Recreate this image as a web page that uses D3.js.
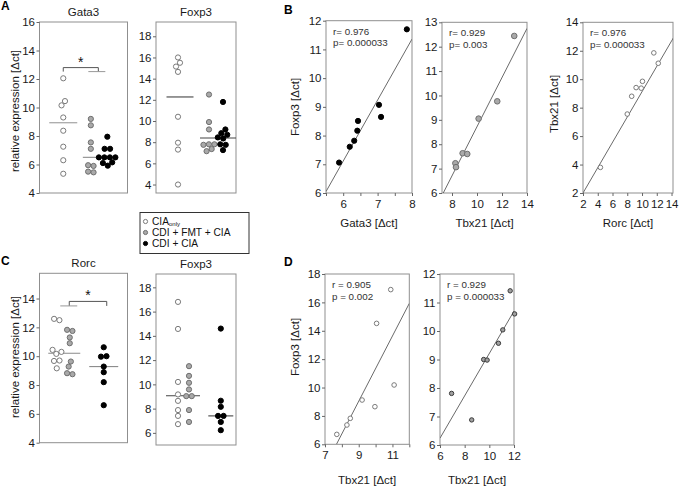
<!DOCTYPE html>
<html><head><meta charset="utf-8">
<script src="https://cdn.jsdelivr.net/npm/d3@7"></script>
<style>
body{margin:0;background:#fff}
svg{display:block}
</style></head><body>
<svg id="c" width="684" height="492"></svg>
<script>
// ---------------- DATA ----------------
// Panel A (strip plots): groups CIA only / CDI + FMT + CIA / CDI + CIA
const groupNames = ["CIA only", "CDI + FMT + CIA", "CDI + CIA"];
const gata3_CIAonly = [12.05, 10.45, 10.15, 9.3, 8.37, 7.25, 6.3, 5.35];
const gata3_FMT     = [9.2, 8.75, 7.55, 7.1, 5.95, 5.9, 5.5, 5.45];
const gata3_CDI     = [7.95, 7.1, 7.1, 6.5, 6.5, 6.5, 6.5, 6.15, 6.1, 5.92];
const gata3_medians = [8.93, 6.5];
const gata3_sigLevel = 12.8;

const foxpA_CIAonly = [16.0, 15.5, 15.14, 14.64, 10.4, 7.95, 7.3, 4.0];
const foxpA_FMT     = [12.5, 9.9, 9.2, 7.8, 7.75, 7.8, 7.35, 7.15];
const foxpA_CDI     = [11.8, 9.2, 8.85, 8.7, 8.45, 8.35, 7.8, 7.75, 7.25];
const foxpA_medians = [12.27, 8.4];

// Panel C
const rorc_CIAonly = [12.59, 12.5, 10.44, 10.3, 10.16, 9.7, 9.67, 9.16];
const rorc_FMT     = [11.83, 11.75, 11.3, 10.9, 9.63, 9.28, 8.82, 8.75];
const rorc_CDI     = [10.62, 10.0, 9.97, 9.28, 8.89, 8.2, 6.6];
const rorc_medians = [10.2, 9.28];
const rorc_sigLevel = 13.8;

const foxpC_CIAonly = [16.8, 14.57, 10.2, 9.17, 8.64, 7.88, 7.4, 6.72];
const foxpC_FMT     = [11.5, 10.7, 10.13, 9.58, 9.03, 9.03, 7.88, 6.9];
const foxpC_CDI     = [14.6, 8.65, 8.15, 7.4, 7.4, 6.9, 6.22];
const foxpC_medians = [9.06, 7.4];

// Panel B (correlations)
const b1_gata3 = [5.88, 6.19, 6.32, 6.41, 6.43, 7.04, 7.1, 7.85];
const b1_foxp3 = [7.06, 7.61, 7.82, 8.17, 8.51, 9.07, 8.65, 11.7];
const b1_fit   = {x: [5.5, 8.0], y: [6.05, 11.36]};
const b1_stats = ["r= 0.976", "p= 0.000033"];

const b2_tbx21 = [12.98, 11.62, 10.13, 8.85, 9.22, 8.27, 8.32];
const b2_foxp3 = [12.44, 9.76, 9.05, 7.63, 7.6, 7.22, 7.06];
const b2_fit   = {x: [7.3, 14.0], y: [6.0, 12.75]};
const b2_stats = ["r= 0.929", "p= 0.003"];

const b3_rorc  = [4.36, 8.0, 8.6, 9.2, 9.89, 10.06, 11.6, 12.2];
const b3_tbx21 = [3.8, 7.55, 8.8, 9.41, 9.37, 9.85, 11.85, 11.12];
const b3_fit   = {x: [2.0, 14.3], y: [2.0, 12.95]};
const b3_stats = ["r= 0.976", "p= 0.000033"];

// Panel D
const d1_tbx21 = [7.7, 8.3, 8.5, 9.2, 9.96, 10.06, 10.9, 11.1];
const d1_foxp3 = [6.7, 7.36, 7.83, 9.12, 8.65, 14.52, 16.9, 10.18];
const d1_fit   = {x: [7.68, 12.0], y: [6.0, 15.93]};
const d1_stats = ["r = 0.905", "p = 0.002"];

const d2_tbx21 = [6.94, 8.57, 9.54, 9.82, 10.74, 11.09, 11.69, 12.05];
const d2_foxp3 = [7.81, 6.88, 9.0, 8.98, 9.57, 10.04, 11.41, 10.6];
const d2_fit   = {x: [6.0, 12.0], y: [6.24, 10.7]};
const d2_stats = ["r = 0.929", "p = 0.000033"];

// ---------------- DRAWING ----------------
const FONT = '"Liberation Sans", Arial, Helvetica, sans-serif';
const svg = d3.select("#c").attr("font-family", FONT);
const STYLE = {
  open:  {fill: "#ffffff", stroke: "#7a7a7a"},
  gray:  {fill: "#a9a9a9", stroke: "#6f6f6f"},
  black: {fill: "#000000", stroke: "#000000"},
  grayDark: {fill: "#a0a0a0", stroke: "#3a3a3a"}
};
let clipId = 0;

function frame(g, b) {
  g.append("rect").attr("x", b.x0).attr("y", b.y0)
    .attr("width", b.x1 - b.x0).attr("height", b.y1 - b.y0)
    .attr("fill", "none").attr("stroke", "#8f8f8f").attr("stroke-width", 1);
}
function styleAxis(a) {
  a.select(".domain").remove();
  a.selectAll("line").attr("stroke", "#666");
  a.selectAll("text").attr("font-size", 11.5).attr("fill", "#1a1a1a").attr("font-family", FONT);
}
function yAxis(g, y, ticks, x0, labelSet) {
  const ax = d3.axisLeft(y).tickValues(ticks).tickSize(3).tickPadding(1.5)
    .tickFormat(d => (!labelSet || labelSet.includes(d)) ? d3.format("d")(d) : "");
  const a = g.append("g").attr("transform", `translate(${x0},0)`).call(ax);
  styleAxis(a);
}
function xAxis(g, x, ticks, y0, labelSet) {
  const ax = d3.axisBottom(x).tickValues(ticks).tickSize(3).tickPadding(4)
    .tickFormat(d => (!labelSet || labelSet.includes(d)) ? d3.format("d")(d) : "");
  const a = g.append("g").attr("transform", `translate(0,${y0})`).call(ax);
  styleAxis(a);
}
function text(g, x, y, s, size, opts = {}) {
  const t = g.append("text").attr("x", x).attr("y", y).attr("font-size", size)
    .attr("fill", opts.fill || "#1a1a1a").attr("text-anchor", opts.anchor || "middle");
  if (opts.weight) t.attr("font-weight", opts.weight);
  if (opts.rotate) t.attr("transform", `rotate(-90,${x},${y})`);
  t.text(s);
  return t;
}
function swarm(vals, cx, y, r) {
  const nodes = vals.map((v, i) => ({v, x: cx + (i % 2 ? 1 : -1) * 0.05 * (i + 1), y: y(v), fy: y(v)}));
  const sim = d3.forceSimulation(nodes)
    .force("x", d3.forceX(cx).strength(0.25))
    .force("c", d3.forceCollide(r + 0.15).iterations(4))
    .stop();
  for (let i = 0; i < 300; i++) sim.tick();
  return nodes;
}
function dots(g, nodes, r, st) {
  g.selectAll(null).data(nodes).join("circle")
    .attr("cx", d => d.x).attr("cy", d => d.y).attr("r", r)
    .attr("fill", st.fill).attr("stroke", st.stroke).attr("stroke-width", 1);
}

// strip panel
function stripPanel(o) {
  const g = svg.append("g");
  const b = o.box;
  const y = d3.scaleLinear().domain(o.yDomain).range([b.y1, b.y0]);
  const w = b.x1 - b.x0;
  const pos = d3.scalePoint().domain(["p1", "p2"]).range([b.x0 + w * o.posFrac[0], b.x0 + w * o.posFrac[1]]);
  frame(g, b);
  yAxis(g, y, o.yTicks, b.x0);
  text(g, (b.x0 + b.x1) / 2, b.y0 - 6, o.title, 11.5);
  o.medians.forEach((m, i) => {
    const cx = pos(["p1", "p2"][i]) + o.medShift[i];
    g.append("line").attr("x1", cx - o.medHalf[i]).attr("x2", cx + o.medHalf[i])
      .attr("y1", y(m)).attr("y2", y(m)).attr("stroke", o.medColor).attr("stroke-width", 1.1);
  });
  o.groups.forEach(gr => {
    const cx = pos(gr.pos) + gr.sub;
    dots(g, swarm(gr.vals, cx, y, o.r), o.r, STYLE[gr.style]);
  });
  return {g, y, pos};
}

// scatter panel
function scatterPanel(o) {
  const g = svg.append("g");
  const b = o.box;
  const x = d3.scaleLinear().domain(o.xDomain).range([b.x0, b.x1]);
  const y = d3.scaleLinear().domain(o.yDomain).range([b.y1, b.y0]);
  frame(g, b);
  yAxis(g, y, o.yTicks, b.x0, o.yLabels);
  xAxis(g, x, o.xTicks, b.y1, o.xLabels);
  const id = "clip" + (clipId++);
  g.append("clipPath").attr("id", id).append("rect")
    .attr("x", b.x0).attr("y", b.y0).attr("width", b.x1 - b.x0).attr("height", b.y1 - b.y0);
  g.append("line").attr("clip-path", `url(#${id})`)
    .attr("x1", x(o.fit.x[0])).attr("y1", y(o.fit.y[0]))
    .attr("x2", x(o.fit.x[1])).attr("y2", y(o.fit.y[1]))
    .attr("stroke", "#6a6a6a").attr("stroke-width", 1);
  const st = STYLE[o.style];
  g.selectAll(null).data(o.xs.map((v, i) => [v, o.ys[i]])).join("circle")
    .attr("cx", d => x(d[0])).attr("cy", d => y(d[1])).attr("r", o.r)
    .attr("fill", st.fill).attr("stroke", st.stroke).attr("stroke-width", 1);
  text(g, b.x0 + 7, b.y0 + 14, o.stats[0], 9.8, {anchor: "start", fill: "#333"});
  text(g, b.x0 + 7, b.y0 + 25.5, o.stats[1], 9.8, {anchor: "start", fill: "#333"});
  if (o.xTitle) text(g, (b.x0 + b.x1) / 2, o.xTitleY, o.xTitle, 11.5);
  if (o.yTitle) text(g, o.yTitleX, o.yTitleY, o.yTitle, 11.5, {rotate: true});
  return {g, x, y};
}

// ---- Panel A ----
text(svg, 1, 10, "A", 12, {anchor: "start", weight: "bold", fill: "#000"});
text(svg, 19, 111, "relative expression [\u0394ct]", 11.5, {rotate: true});
const aG = stripPanel({
  box: {x0: 39.5, x1: 127.5, y0: 22, y1: 193}, yDomain: [4, 16], yTicks: d3.range(4, 17, 2),
  title: "Gata3", posFrac: [0.27, 0.68], r: 2.6,
  medians: gata3_medians, medHalf: [14, 17.5], medShift: [0, 1], medColor: "#9a9a9a",
  groups: [
    {vals: gata3_CIAonly, pos: "p1", sub: 0, style: "open"},
    {vals: gata3_FMT, pos: "p2", sub: -8.5, style: "gray"},
    {vals: gata3_CDI, pos: "p2", sub: 8, style: "black"}
  ]
});
{
  const g = aG.g, y = aG.y;
  const xl = aG.pos("p1"), xr = aG.pos("p2") - 1, yb = y(gata3_sigLevel);
  g.append("path").attr("d", `M${xl},${yb + 4}V${yb}H${xr}V${yb + 4}`).attr("fill", "none").attr("stroke", "#555");
  g.append("line").attr("x1", xr - 10).attr("x2", xr + 7).attr("y1", yb + 4).attr("y2", yb + 4).attr("stroke", "#999");
  text(g, (xl + xr) / 2, yb - 1, "*", 14, {fill: "#111"});
}
stripPanel({
  box: {x0: 156, x1: 236, y0: 22, y1: 193}, yDomain: [3.2, 19.35], yTicks: d3.range(4, 19, 2),
  title: "Foxp3", posFrac: [0.3, 0.75], r: 2.6,
  medians: foxpA_medians, medHalf: [13.5, 18], medShift: [0, 2], medColor: "#444",
  groups: [
    {vals: foxpA_CIAonly, pos: "p1", sub: -2, style: "open"},
    {vals: foxpA_FMT, pos: "p2", sub: -7, style: "gray"},
    {vals: foxpA_CDI, pos: "p2", sub: 7, style: "black"}
  ]
});

// Legend
{
  const g = svg.append("g");
  g.append("rect").attr("x", 140).attr("y", 212.5).attr("width", 109).attr("height", 41)
    .attr("fill", "#fff").attr("stroke", "#333").attr("stroke-width", 1);
  const sts = ["open", "gray", "black"];
  sts.forEach((s, i) => {
    const yy = 221.5 + i * 11;
    g.append("circle").attr("cx", 145.5).attr("cy", yy).attr("r", 2.1)
      .attr("fill", STYLE[s].fill).attr("stroke", STYLE[s].stroke);
    const t = g.append("text").attr("x", 152).attr("y", yy + 3.4).attr("font-size", 10.2).attr("fill", "#111");
    if (i === 0) {
      t.append("tspan").text("CIA");
      t.append("tspan").attr("font-size", 6).attr("dy", 1).text("only");
    } else t.text(groupNames[i]);
  });
}

// ---- Panel B ----
text(svg, 284, 13.5, "B", 12, {anchor: "start", weight: "bold", fill: "#000"});
scatterPanel({
  box: {x0: 326, x1: 412, y0: 20.7, y1: 193}, xDomain: [5.5, 8], yDomain: [6, 12],
  xTicks: [5.5, 6, 6.5, 7, 7.5, 8], xLabels: [6, 7, 8], yTicks: d3.range(6, 13, 1),
  xs: b1_gata3, ys: b1_foxp3, fit: b1_fit, style: "black", r: 2.6, stats: b1_stats,
  xTitle: "Gata3 [\u0394ct]", xTitleY: 227, yTitle: "Foxp3 [\u0394ct]", yTitleX: 299, yTitleY: 107
});
scatterPanel({
  box: {x0: 442, x1: 527, y0: 22.3, y1: 193}, xDomain: [7.2, 14], yDomain: [6, 13],
  xTicks: [8, 10, 12, 14], yTicks: d3.range(6, 14, 1),
  xs: b2_tbx21, ys: b2_foxp3, fit: b2_fit, style: "gray", r: 2.8, stats: b2_stats,
  xTitle: "Tbx21 [\u0394ct]", xTitleY: 227
});
scatterPanel({
  box: {x0: 583, x1: 673, y0: 22.3, y1: 193}, xDomain: [2, 14.2], yDomain: [2, 14],
  xTicks: d3.range(2, 15, 2), yTicks: d3.range(2, 15, 2),
  xs: b3_rorc, ys: b3_tbx21, fit: b3_fit, style: "open", r: 2.3, stats: b3_stats,
  xTitle: "Rorc [\u0394ct]", xTitleY: 227, yTitle: "Tbx21 [\u0394ct]", yTitleX: 558, yTitleY: 104
});

// ---- Panel C ----
text(svg, 1, 265, "C", 12, {anchor: "start", weight: "bold", fill: "#000"});
text(svg, 19, 357, "relative expression [\u0394ct]", 11.5, {rotate: true});
const cG = stripPanel({
  box: {x0: 39.5, x1: 127.5, y0: 273.3, y1: 442.7}, yDomain: [4, 15.75], yTicks: d3.range(4, 15, 2),
  title: "Rorc", posFrac: [0.27, 0.73], r: 2.6,
  medians: rorc_medians, medHalf: [16, 14.5], medShift: [1, 0], medColor: "#8a8a8a",
  groups: [
    {vals: rorc_CIAonly, pos: "p1", sub: -6.5, style: "open"},
    {vals: rorc_FMT, pos: "p1", sub: 6.5, style: "gray"},
    {vals: rorc_CDI, pos: "p2", sub: 0, style: "black"}
  ]
});
{
  const g = cG.g, y = cG.y;
  const xl = cG.pos("p1") + 6, xr = cG.pos("p2") + 3, yb = y(rorc_sigLevel);
  g.append("path").attr("d", `M${xl},${yb + 4.5}V${yb}H${xr}V${yb + 4.5}`).attr("fill", "none").attr("stroke", "#555");
  g.append("line").attr("x1", xl - 9).attr("x2", xl + 8).attr("y1", yb + 4.5).attr("y2", yb + 4.5).attr("stroke", "#999");
  text(g, (xl + xr) / 2, yb - 1, "*", 14, {fill: "#111"});
}
stripPanel({
  box: {x0: 156, x1: 236, y0: 274, y1: 445}, yDomain: [5, 19.1], yTicks: d3.range(6, 19, 2),
  title: "Foxp3", posFrac: [0.35, 0.81], r: 2.6,
  medians: foxpC_medians, medHalf: [17, 12.5], medShift: [-1, 0], medColor: "#444",
  groups: [
    {vals: foxpC_CIAonly, pos: "p1", sub: -6, style: "open"},
    {vals: foxpC_FMT, pos: "p1", sub: 5, style: "gray"},
    {vals: foxpC_CDI, pos: "p2", sub: 0, style: "black"}
  ]
});

// ---- Panel D ----
text(svg, 284, 265.5, "D", 12, {anchor: "start", weight: "bold", fill: "#000"});
scatterPanel({
  box: {x0: 325, x1: 409.3, y0: 274, y1: 444.3}, xDomain: [7, 12], yDomain: [6, 18],
  xTicks: d3.range(7, 13, 1), xLabels: [7, 9, 11], yTicks: d3.range(6, 19, 2),
  xs: d1_tbx21, ys: d1_foxp3, fit: d1_fit, style: "open", r: 2.3, stats: d1_stats,
  xTitle: "Tbx21 [\u0394ct]", xTitleY: 484, yTitle: "Foxp3 [\u0394ct]", yTitleX: 299, yTitleY: 347
});
scatterPanel({
  box: {x0: 440, x1: 514, y0: 274, y1: 445}, xDomain: [6, 12], yDomain: [6, 12],
  xTicks: d3.range(6, 13, 2), yTicks: d3.range(6, 13, 1),
  xs: d2_tbx21, ys: d2_foxp3, fit: d2_fit, style: "grayDark", r: 2.2, stats: d2_stats,
  xTitle: "Tbx21 [\u0394ct]", xTitleY: 484
});
</script>
</body></html>
